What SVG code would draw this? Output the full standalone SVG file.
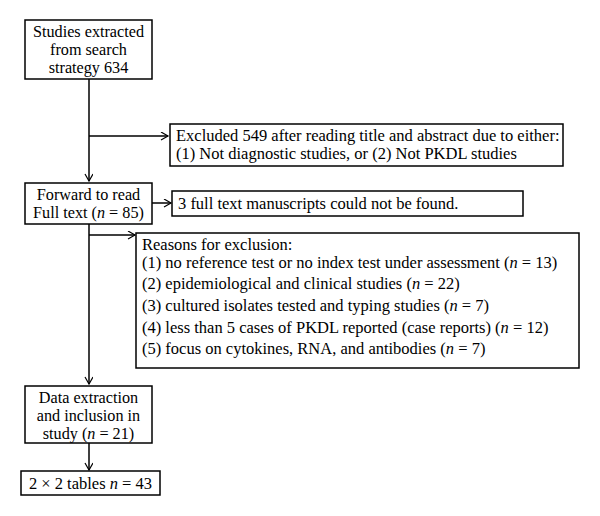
<svg xmlns="http://www.w3.org/2000/svg" width="600" height="516" viewBox="0 0 600 516">
<defs>
<marker id="arr" markerWidth="10" markerHeight="10" refX="8" refY="4" orient="auto" markerUnits="userSpaceOnUse">
<path d="M1,0 L8,4 L1,8" fill="none" stroke="#000" stroke-width="1.2"/>
</marker>
<style>
rect{fill:#fff;stroke:#000;stroke-width:1.5}
text{font-family:"Liberation Serif","Times New Roman",serif;font-size:16.5px;fill:#000}
.c{text-anchor:middle;font-size:16.2px}
.ln{stroke:#000;stroke-width:1.5;fill:none}
</style>
</defs>
<rect x="0" y="0" width="600" height="516" style="stroke:none"/>
<g id="connectors">
<line class="ln" x1="89" y1="79" x2="89" y2="181" marker-end="url(#arr)"/>
<line class="ln" x1="89" y1="136" x2="168" y2="136" marker-end="url(#arr)"/>
<line class="ln" x1="152" y1="203" x2="171" y2="203" marker-end="url(#arr)"/>
<line class="ln" x1="89" y1="224" x2="89" y2="384" marker-end="url(#arr)"/>
<line class="ln" x1="89" y1="235" x2="135" y2="235" marker-end="url(#arr)"/>
<line class="ln" x1="89" y1="443" x2="89" y2="470" marker-end="url(#arr)"/>
</g>
<g id="n1">
<rect x="25" y="20" width="127" height="59"/>
<text class="c" x="88.5" y="36.5">Studies extracted</text>
<text class="c" x="88.5" y="54.5">from search</text>
<text class="c" x="88.5" y="72.5">strategy 634</text>
</g>
<g id="n2">
<rect x="170" y="124" width="393" height="42"/>
<text x="176" y="140.5">Excluded 549 after reading title and abstract due to either:</text>
<text x="176" y="158.8">(1) Not diagnostic studies, or (2) Not PKDL studies</text>
</g>
<g id="n3">
<rect x="25" y="183" width="127" height="41"/>
<text class="c" x="88.5" y="199.5">Forward to read</text>
<text class="c" x="88.5" y="217.5">Full text (<tspan font-style="italic">n</tspan> = 85)</text>
</g>
<g id="n4">
<rect x="172" y="191" width="351" height="25"/>
<text x="178" y="208.5">3 full text manuscripts could not be found.</text>
</g>
<g id="n5">
<rect x="136" y="233" width="443" height="135"/>
<text x="142" y="250">Reasons for exclusion:</text>
<text x="142" y="267.5">(1) no reference test or no index test under assessment (<tspan font-style="italic">n</tspan> = 13)</text>
<text x="142" y="289">(2) epidemiological and clinical studies (<tspan font-style="italic">n</tspan> = 22)</text>
<text x="142" y="310.5">(3) cultured isolates tested and typing studies (<tspan font-style="italic">n</tspan> = 7)</text>
<text x="142" y="332.5">(4) less than 5 cases of PKDL reported (case reports) (<tspan font-style="italic">n</tspan> = 12)</text>
<text x="142" y="354">(5) focus on cytokines, RNA, and antibodies (<tspan font-style="italic">n</tspan> = 7)</text>
</g>
<g id="n6">
<rect x="25" y="386" width="127" height="57"/>
<text class="c" x="88.5" y="402.5">Data extraction</text>
<text class="c" x="88.5" y="420.5">and inclusion in</text>
<text class="c" x="88.5" y="438.5">study (<tspan font-style="italic">n</tspan> = 21)</text>
</g>
<g id="n7">
<rect x="21" y="471" width="139" height="24"/>
<text class="c" x="90.5" y="489" style="font-size:16.5px">2 × 2 tables <tspan font-style="italic">n</tspan> = 43</text>
</g>
</svg>
